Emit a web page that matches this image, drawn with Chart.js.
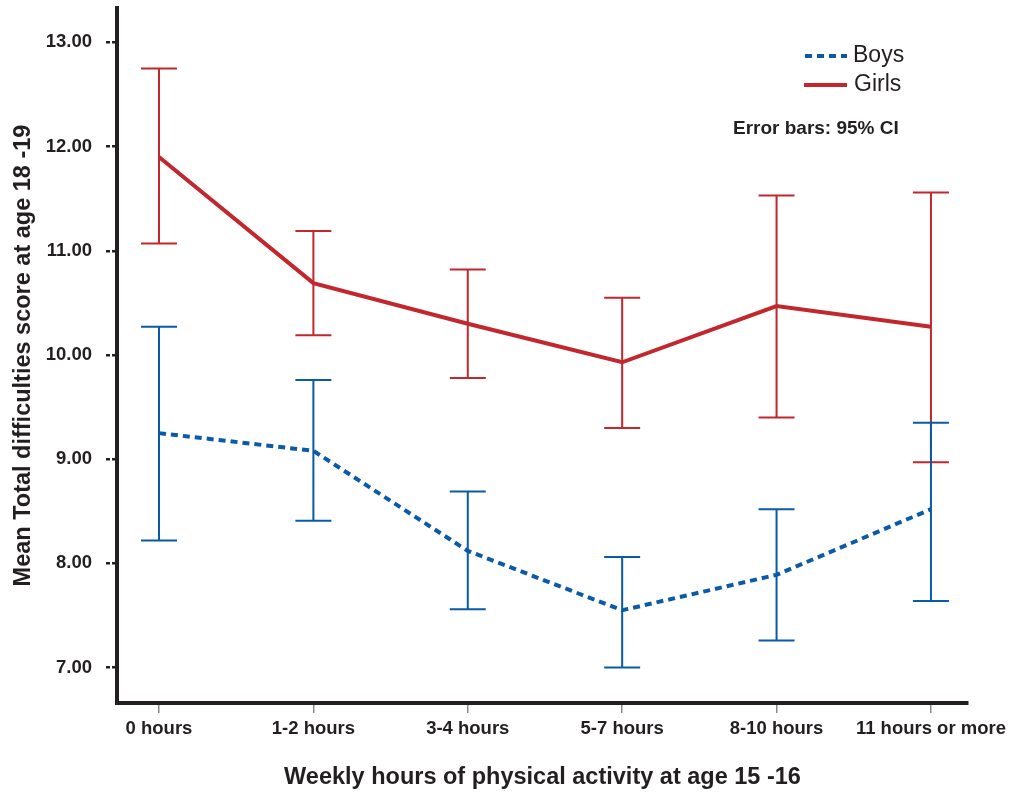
<!DOCTYPE html>
<html>
<head>
<meta charset="utf-8">
<script src="https://cdn.jsdelivr.net/npm/chart.js@4"></script>
<style>
    html, body { margin: 0; padding: 0; background: #fff; }
    #wrap { width: 1018px; height: 799px; }
</style>
</head>
<body>
<div id="wrap"><canvas id="myChart" width="1018" height="799"></canvas></div>
<script>
const categories = ["0 hours", "1-2 hours", "3-4 hours", "5-7 hours", "8-10 hours", "11 hours or more"];
const yTicks = [7, 8, 9, 10, 11, 12, 13];

const boysMean = [9.25, 9.08, 8.12, 7.55, 7.89, 8.52];
const boysLow = [8.22, 8.41, 7.56, 7.00, 7.26, 7.64];
const boysHigh = [10.27, 9.76, 8.69, 8.06, 8.52, 9.35];

const girlsMean = [11.90, 10.69, 10.30, 9.93, 10.47, 10.27];
const girlsLow = [11.07, 10.19, 9.78, 9.30, 9.40, 8.97];
const girlsHigh = [12.75, 11.19, 10.82, 10.55, 11.53, 11.56];

const BLUE = "#0b5aa8";
const RED = "#c1272d";
const FONT = "'Liberation Sans', Arial, sans-serif";

function points(values) {
    return values.map((v, i) => ({ x: i, y: v }));
}

// error bars drawn with the chart's own scales
const errorBars = {
    id: "errorBars",
    afterDatasetsDraw(chart) {
        const c = chart.ctx;
        const xs = chart.scales.x;
        const ys = chart.scales.y;
        const order = [1, 0]; // girls first, boys on top
        order.forEach((d) => {
            const ds = chart.data.datasets[d];
            c.save();
            c.strokeStyle = ds.borderColor;
            c.lineWidth = 2;
            ds.errLow.forEach((lo, i) => {
                const x = xs.getPixelForValue(i);
                const yl = ys.getPixelForValue(lo);
                const yh = ys.getPixelForValue(ds.errHigh[i]);
                c.beginPath();
                c.moveTo(x, yl);
                c.lineTo(x, yh);
                c.moveTo(x - 18, yl);
                c.lineTo(x + 18, yl);
                c.moveTo(x - 18, yh);
                c.lineTo(x + 18, yh);
                c.stroke();
            });
            c.restore();
        });
    },
    afterDraw(chart) {
        // legend + note
        const c = chart.ctx;
        c.save();
        c.lineWidth = 4;
        c.strokeStyle = BLUE;
        c.setLineDash([7, 5]);
        c.beginPath();
        c.moveTo(805, 56);
        c.lineTo(847, 56);
        c.stroke();
        c.setLineDash([]);
        c.strokeStyle = RED;
        c.beginPath();
        c.moveTo(804, 85);
        c.lineTo(847, 85);
        c.stroke();
        c.fillStyle = "#231f20";
        c.font = "23px " + FONT;
        c.textBaseline = "middle";
        c.fillText(chart.data.datasets[0].label, 853, 56);
        c.fillText(chart.data.datasets[1].label, 854, 85);
        c.font = "bold 19px " + FONT;
        c.fillText("Error bars: 95% CI", 733, 129);
        c.restore();
    },
};

const ctx = document.getElementById("myChart").getContext("2d");
const chart = new Chart(ctx, {
    type: "line",
    data: {
        datasets: [
            {
                label: "Boys",
                data: points(boysMean),
                errLow: boysLow,
                errHigh: boysHigh,
                borderColor: BLUE,
                borderWidth: 4,
                borderDash: [7, 5],
                pointRadius: 0,
                fill: false,
                tension: 0,
            },
            {
                label: "Girls",
                data: points(girlsMean),
                errLow: girlsLow,
                errHigh: girlsHigh,
                borderColor: RED,
                borderWidth: 4,
                pointRadius: 0,
                fill: false,
                tension: 0,
            },
        ],
    },
    options: {
        responsive: false,
        animation: false,
        events: [],
        layout: { padding: { top: 8, right: 50, left: 0, bottom: 0 } },
        scales: {
            x: {
                type: "linear",
                min: -0.272,
                max: 5.24,
                afterFit: (s) => { s.height = 96; s.paddingLeft = 0; s.paddingRight = 0; },
                afterBuildTicks: (s) => { s.ticks = categories.map((c, i) => ({ value: i })); },
                ticks: {
                    color: "#231f20",
                    font: { family: FONT, size: 18.5, weight: "bold" },
                    padding: 5,
                    maxRotation: 0,
                    autoSkip: false,
                    callback: (v) => categories[v],
                },
                grid: {
                    drawOnChartArea: false,
                    tickLength: 10,
                    color: "#8a8a8a",
                    lineWidth: 1.5,
                },
                border: { display: true, color: "#231f20", width: 4 },
                title: {
                    display: true,
                    text: "Weekly hours of physical activity at age 15 -16",
                    color: "#231f20",
                    font: { family: FONT, size: 23.5, weight: "bold" },
                    padding: { top: 0, bottom: 7 },
                },
            },
            y: {
                min: 6.66,
                max: 13.33,
                afterFit: (s) => { s.width = 117; s.paddingTop = 0; s.paddingBottom = 0; },
                afterBuildTicks: (s) => { s.ticks = yTicks.map((v) => ({ value: v })); },
                ticks: {
                    color: "#231f20",
                    font: { family: FONT, size: 18.5, weight: "bold" },
                    padding: 14,
                    callback: (v) => v.toFixed(2),
                },
                grid: {
                    drawOnChartArea: false,
                    tickLength: 11,
                    color: "#231f20",
                    lineWidth: 2.5,
                    tickBorderDash: [4, 2],
                },
                border: { display: true, color: "#231f20", width: 4 },
                title: {
                    display: true,
                    text: "Mean Total difficulties score at age 18 -19",
                    color: "#231f20",
                    font: { family: FONT, size: 23.5, weight: "bold" },
                    padding: { top: 9, bottom: 0 },
                },
            },
        },
        plugins: {
            legend: { display: false },
            tooltip: { enabled: false },
        },
    },
    plugins: [errorBars],
});
</script>
</body>
</html>
